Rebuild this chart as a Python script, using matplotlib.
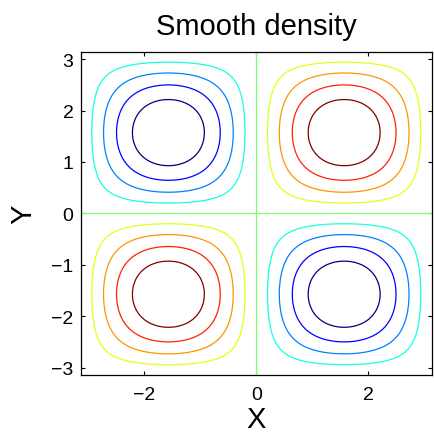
import numpy as np
import matplotlib
matplotlib.use("Agg")
import matplotlib.pyplot as plt

plt.rcParams['font.family'] = ['Liberation Sans', 'DejaVu Sans']

# grid over one full period in each direction
x_range = (-np.pi, np.pi)
y_range = (-np.pi, np.pi)
n_points = 101

# contour levels of the density surface
levels = [-0.8, -0.6, -0.4, -0.2, 0.0, 0.2, 0.4, 0.6, 0.8]

x_ticks = [-2, 0, 2]
y_ticks = [-3, -2, -1, 0, 1, 2, 3]

x = np.linspace(x_range[0], x_range[1], n_points)
y = np.linspace(y_range[0], y_range[1], n_points)
X, Y = np.meshgrid(x, y)
Z = np.sin(X) * np.sin(Y)

fig = plt.figure(figsize=(4.34, 4.35), dpi=100)
ax = fig.add_axes([0.1855, 0.1356, 0.81, 0.743])

ax.contour(X, Y, Z, levels=levels, cmap='jet', vmin=levels[0], vmax=levels[-1],
           linewidths=0.9)

ax.set_xlim(x_range)
ax.set_ylim(y_range)
ax.set_xticks(x_ticks)
ax.set_yticks(y_ticks)
ax.tick_params(direction='in', top=True, right=True, length=3, width=0.8,
               labelsize=14)
ax.tick_params(axis='x', pad=8)
ax.tick_params(axis='y', pad=5)
for s in ax.spines.values():
    s.set_linewidth(0.9)

ax.set_title('Smooth density', fontsize=21, pad=13)
ax.set_xlabel('X', fontsize=21, labelpad=1)
ax.set_ylabel('Y', fontsize=21, labelpad=10)

fig.savefig('out.png', dpi=100)
